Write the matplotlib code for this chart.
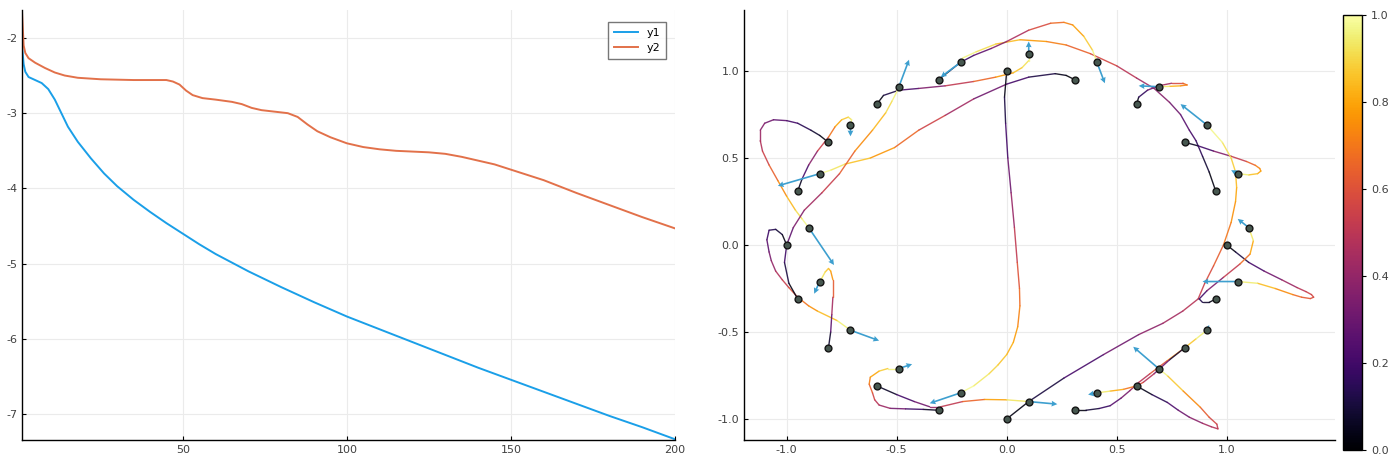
import numpy as np
import matplotlib
matplotlib.use("Agg")
import matplotlib.pyplot as plt
from matplotlib.collections import LineCollection

plt.rcParams['font.family'] = 'DejaVu Sans'
plt.rcParams['axes.unicode_minus'] = False

# ---- left panel data ----
x1 = [1, 1.5, 2, 3, 5, 7, 9, 11, 13, 15, 18, 22, 26, 30, 35, 40, 45, 50, 55, 60,
      70, 80, 90, 100, 110, 120, 130, 140, 150, 160, 170, 180, 190, 200]
y1 = [-2.1, -2.35, -2.45, -2.52, -2.56, -2.6, -2.68, -2.82, -3.0, -3.18, -3.38, -3.6,
      -3.8, -3.97, -4.15, -4.31, -4.46, -4.6, -4.74, -4.87, -5.1, -5.31, -5.51, -5.7,
      -5.87, -6.04, -6.21, -6.38, -6.54, -6.7, -6.86, -7.02, -7.17, -7.33]
x2 = [1, 1.5, 2, 3, 5, 8, 11, 14, 18, 25, 35, 45, 47, 49, 51, 53, 56, 60, 65, 68, 71,
      74, 78, 82, 85, 88, 91, 95, 100, 105, 110, 115, 120, 125, 130, 135, 140, 145,
      150, 155, 160, 170, 180, 190, 200]
y2 = [-1.65, -2.1, -2.2, -2.27, -2.33, -2.4, -2.46, -2.5, -2.53, -2.55, -2.56, -2.56,
      -2.58, -2.62, -2.7, -2.76, -2.8, -2.82, -2.85, -2.88, -2.93, -2.96, -2.98, -3.0,
      -3.05, -3.15, -3.24, -3.32, -3.4, -3.45, -3.48, -3.5, -3.51, -3.52, -3.54, -3.58,
      -3.63, -3.68, -3.75, -3.82, -3.89, -4.06, -4.22, -4.38, -4.53]

# ---- right panel data ----
start_x = [1.0, 0.95, 0.81, 0.59, 0.31, 0.0, -0.31, -0.59, -0.81, -0.95,
           -1.0, -0.95, -0.81, -0.59, -0.31, 0.0, 0.31, 0.59, 0.81, 0.95]
start_y = [0.0, 0.31, 0.59, 0.81, 0.95, 1.0, 0.95, 0.81, 0.59, 0.31,
           0.0, -0.31, -0.59, -0.81, -0.95, -1.0, -0.95, -0.81, -0.59, -0.31]
target_x = [1.1, 1.05, 0.91, 0.69, 0.41, 0.1, -0.21, -0.49, -0.71, -0.85,
            -0.9, -0.85, -0.71, -0.49, -0.21, 0.1, 0.41, 0.69, 0.91, 1.05]
target_y = [0.1, 0.41, 0.69, 0.91, 1.05, 1.1, 1.05, 0.91, 0.69, 0.41,
            0.1, -0.21, -0.49, -0.71, -0.85, -0.9, -0.85, -0.71, -0.49, -0.21]
arrow_u = [-0.05, -0.03, -0.12, -0.09, 0.036, 0.0, -0.09, 0.046, 0.0, -0.19,
           0.115, -0.025, 0.13, 0.06, -0.14, 0.13, -0.04, -0.115, 0.01, -0.16]
arrow_v = [0.05, 0.02, 0.12, 0.005, -0.12, 0.07, -0.085, 0.155, -0.065, -0.07,
           -0.215, -0.07, -0.06, 0.025, -0.06, -0.015, -0.01, 0.125, 0.03, 0.0]

path_s0 = [(1.0, 0.0), (1.04, -0.04), (1.1, -0.1), (1.17, -0.15), (1.25, -0.2), (1.32, -0.245),
           (1.36, -0.268), (1.385, -0.285), (1.395, -0.3), (1.38, -0.308), (1.34, -0.3),
           (1.3, -0.285), (1.22, -0.25), (1.14, -0.22), (1.05, -0.21)]
path_s1 = [(0.95, 0.31), (0.92, 0.42), (0.89, 0.51), (0.86, 0.6), (0.83, 0.66), (0.79, 0.75),
           (0.74, 0.82), (0.67, 0.9), (0.59, 0.96), (0.5, 1.03), (0.38, 1.1), (0.27, 1.15),
           (0.18, 1.17), (0.06, 1.18), (-0.05, 1.155), (-0.14, 1.11), (-0.2, 1.075), (-0.21, 1.05)]
path_s2 = [(0.81, 0.59), (0.87, 0.57), (0.94, 0.54), (1.02, 0.51), (1.09, 0.48), (1.13, 0.458),
           (1.15, 0.44), (1.155, 0.425), (1.14, 0.41), (1.1, 0.403), (1.05, 0.41)]
path_s3 = [(0.59, 0.81), (0.6, 0.85), (0.64, 0.89), (0.69, 0.915), (0.75, 0.93), (0.8, 0.93),
           (0.82, 0.92), (0.79, 0.915), (0.74, 0.912), (0.69, 0.91)]
path_s4 = [(0.31, 0.95), (0.27, 0.975), (0.22, 0.985), (0.1, 0.965), (0.0, 0.925), (-0.15, 0.84),
           (-0.28, 0.745), (-0.4, 0.66), (-0.51, 0.56), (-0.62, 0.5), (-0.735, 0.465),
           (-0.8, 0.43), (-0.85, 0.41)]
path_s5 = [(0.0, 1.0), (-0.01, 0.85), (-0.005, 0.7), (0.005, 0.5), (0.02, 0.3), (0.035, 0.1),
           (0.048, -0.1), (0.058, -0.25), (0.06, -0.35), (0.05, -0.47), (0.03, -0.56),
           (0.0, -0.63), (-0.04, -0.69), (-0.08, -0.74), (-0.15, -0.81), (-0.21, -0.85)]
path_s6 = [(-0.31, 0.95), (-0.26, 1.0), (-0.21, 1.05), (-0.15, 1.09), (-0.07, 1.13), (0.0, 1.17),
           (0.1, 1.235), (0.2, 1.275), (0.26, 1.28), (0.3, 1.265), (0.35, 1.2), (0.39, 1.12),
           (0.41, 1.05)]
path_s7 = [(-0.59, 0.81), (-0.56, 0.86), (-0.49, 0.89), (-0.4, 0.9), (-0.28, 0.915),
           (-0.15, 0.94), (-0.05, 0.965), (0.03, 0.99), (0.07, 1.02), (0.1, 1.06), (0.1, 1.1)]
path_s8 = [(-0.81, 0.59), (-0.85, 0.63), (-0.89, 0.66), (-0.95, 0.7), (-1.0, 0.715),
           (-1.06, 0.72), (-1.1, 0.7), (-1.12, 0.66), (-1.12, 0.6), (-1.11, 0.54),
           (-1.08, 0.46), (-1.04, 0.37), (-1.0, 0.28), (-0.96, 0.2), (-0.93, 0.15), (-0.9, 0.1)]
path_s9 = [(-0.95, 0.31), (-0.93, 0.38), (-0.9, 0.46), (-0.86, 0.54), (-0.81, 0.62),
           (-0.78, 0.68), (-0.75, 0.72), (-0.72, 0.735), (-0.705, 0.72), (-0.71, 0.69)]
path_s10 = [(-1.0, 0.0), (-1.02, 0.06), (-1.05, 0.09), (-1.08, 0.085), (-1.09, 0.03),
            (-1.08, -0.04), (-1.07, -0.09), (-1.05, -0.15), (-1.02, -0.2), (-0.99, -0.245),
            (-0.95, -0.3), (-0.9, -0.35), (-0.86, -0.38), (-0.77, -0.435), (-0.71, -0.49)]
path_s11 = [(-0.95, -0.31), (-0.99, -0.22), (-1.01, -0.1), (-1.0, 0.0), (-0.97, 0.1),
            (-0.92, 0.2), (-0.84, 0.3), (-0.76, 0.41), (-0.69, 0.54), (-0.61, 0.66),
            (-0.55, 0.76), (-0.52, 0.83), (-0.5, 0.88), (-0.49, 0.91)]
path_s12 = [(-0.81, -0.59), (-0.8, -0.5), (-0.795, -0.4), (-0.79, -0.3), (-0.79, -0.2),
            (-0.8, -0.15), (-0.81, -0.135), (-0.825, -0.155), (-0.84, -0.19), (-0.85, -0.21)]
path_s13 = [(-0.59, -0.81), (-0.5, -0.86), (-0.42, -0.9), (-0.35, -0.93), (-0.3, -0.93),
            (-0.2, -0.9), (-0.1, -0.888), (0.0, -0.89), (0.1, -0.9)]
path_s14 = [(-0.31, -0.95), (-0.38, -0.945), (-0.46, -0.942), (-0.53, -0.939), (-0.58, -0.92),
            (-0.6, -0.89), (-0.61, -0.85), (-0.625, -0.8), (-0.62, -0.76), (-0.58, -0.725),
            (-0.54, -0.71), (-0.49, -0.71)]
path_s15 = [(0.0, -1.0), (0.1, -0.9), (0.26, -0.765), (0.44, -0.63), (0.6, -0.515), (0.71, -0.45),
            (0.8, -0.38), (0.87, -0.31), (0.9, -0.22), (0.94, -0.12), (0.985, 0.0), (1.02, 0.13),
            (1.04, 0.25), (1.045, 0.33), (1.04, 0.42), (1.02, 0.5), (0.98, 0.59), (0.91, 0.69)]
path_s16 = [(0.31, -0.95), (0.36, -0.95), (0.42, -0.94), (0.47, -0.924), (0.52, -0.88),
            (0.56, -0.837), (0.6, -0.79), (0.65, -0.741), (0.73, -0.665), (0.81, -0.59),
            (0.86, -0.54), (0.91, -0.49)]
path_s17 = [(0.59, -0.81), (0.66, -0.86), (0.73, -0.905), (0.78, -0.95), (0.83, -0.99),
            (0.89, -1.025), (0.93, -1.045), (0.96, -1.057), (0.955, -1.03), (0.92, -0.99),
            (0.88, -0.933), (0.8, -0.837), (0.73, -0.751), (0.69, -0.71)]
path_s18 = [(0.81, -0.59), (0.74, -0.66), (0.67, -0.74), (0.62, -0.79), (0.59, -0.81),
            (0.53, -0.83), (0.47, -0.84), (0.41, -0.85)]
path_s19 = [(0.95, -0.31), (0.92, -0.33), (0.89, -0.33), (0.875, -0.31), (0.91, -0.263),
            (0.985, -0.186), (1.06, -0.109), (1.106, -0.052), (1.121, 0.025), (1.1, 0.1)]

paths = [path_s0, path_s1, path_s2, path_s3, path_s4, path_s5, path_s6, path_s7, path_s8,
         path_s9, path_s10, path_s11, path_s12, path_s13, path_s14, path_s15, path_s16,
         path_s17, path_s18, path_s19]

W, H = 1399, 471
fig = plt.figure(figsize=(W / 100, H / 100), dpi=100)
fig.patch.set_facecolor('white')

tick_col = '#404040'
grid_col = '#ebebeb'


def style(ax):
    for s in ['top', 'right']:
        ax.spines[s].set_visible(False)
    for s in ['left', 'bottom']:
        ax.spines[s].set_linewidth(1.0)
    ax.tick_params(direction='in', length=3, width=0.8, labelsize=8, labelcolor=tick_col)
    ax.grid(True, color=grid_col, linewidth=0.8)
    ax.set_axisbelow(True)


# ---- left: y1 / y2 ----
ax1 = fig.add_axes([22 / W, 1 - 440 / H, (675 - 22) / W, 430 / H])
style(ax1)
ax1.plot(x1, y1, color='#1a9fe8', lw=1.4, label='y1')
ax1.plot(x2, y2, color='#e2714a', lw=1.4, label='y2')
ax1.set_xlim(1, 200)
ax1.set_ylim(-7.34, -1.63)
ax1.set_xticks([50, 100, 150, 200])
ax1.set_yticks([-7, -6, -5, -4, -3, -2])
ax1.legend(loc='upper right', fontsize=8, frameon=True, fancybox=False, edgecolor='#555555',
           handlelength=2.2, borderpad=0.5, labelspacing=0.5, bbox_to_anchor=(0.995, 0.985))

# ---- right: trajectories ----
ax2 = fig.add_axes([744 / W, 1 - 440 / H, (1335 - 744) / W, 430 / H])
style(ax2)
cmap = plt.get_cmap('inferno')
for p in paths:
    pts = np.array(p)
    segs = np.stack([pts[:-1], pts[1:]], axis=1)
    d = np.hypot(*(pts[1:] - pts[:-1]).T)
    cum = np.concatenate([[0], np.cumsum(d)])
    t = 0.5 * (cum[:-1] + cum[1:]) / cum[-1]
    lc = LineCollection(segs, cmap=cmap, norm=plt.Normalize(0, 1), linewidths=1.0,
                        capstyle='round', joinstyle='round', alpha=0.9, zorder=2)
    lc.set_array(t)
    ax2.add_collection(lc)

ax2.quiver(target_x, target_y, arrow_u, arrow_v, angles='xy', scale_units='xy', scale=1,
           color='#3d9fcf', width=0.0028, headwidth=3.5, headlength=3.5, headaxislength=3.2,
           zorder=3)
ax2.scatter(start_x, start_y, s=24, c='#46574f', edgecolors='#151515', linewidths=1.0, zorder=4)
ax2.scatter(target_x, target_y, s=24, c='#46574f', edgecolors='#151515', linewidths=1.0, zorder=4)
ax2.set_xlim(-1.194, 1.492)
ax2.set_ylim(-1.121, 1.351)
ax2.set_xticks([-1.0, -0.5, 0.0, 0.5, 1.0])
ax2.set_yticks([-1.0, -0.5, 0.0, 0.5, 1.0])
ax2.set_xticklabels(['-1.0', '-0.5', '0.0', '0.5', '1.0'])
ax2.set_yticklabels(['-1.0', '-0.5', '0.0', '0.5', '1.0'])

# ---- colorbar ----
cax = fig.add_axes([1343 / W, 1 - 450 / H, 19 / W, 435 / H])
sm = plt.cm.ScalarMappable(cmap=cmap, norm=plt.Normalize(0, 1))
cb = fig.colorbar(sm, cax=cax)
cb.set_ticks([0.0, 0.2, 0.4, 0.6, 0.8, 1.0])
cb.set_ticklabels(['0.0', '0.2', '0.4', '0.6', '0.8', '1.0'])
cb.outline.set_linewidth(1.0)
cax.tick_params(labelsize=8, labelcolor=tick_col, length=3, width=0.8)

fig.savefig('out.png', dpi=100)
